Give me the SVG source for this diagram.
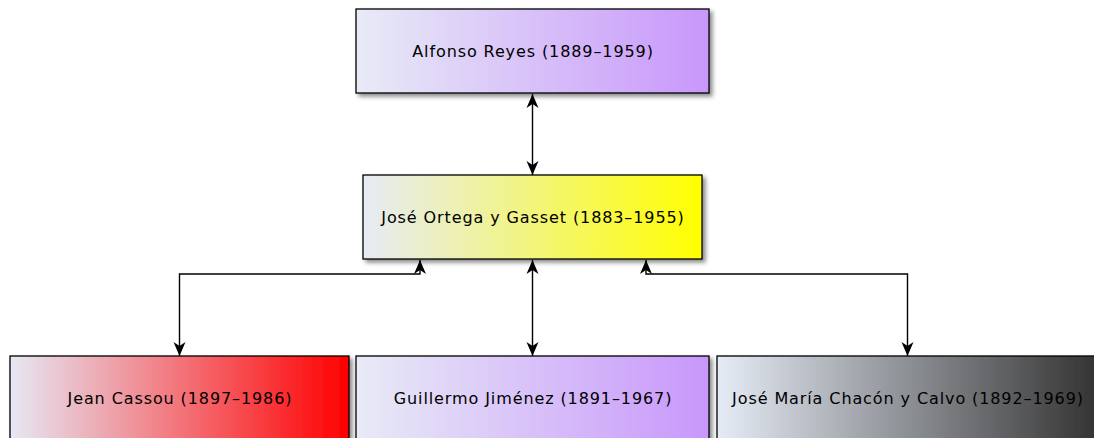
<svg xmlns="http://www.w3.org/2000/svg" width="1094" height="438" viewBox="0 0 1094 438">
<defs>
<style>
.box{stroke:#000;stroke-width:1.3;filter:url(#sh)}
.lbl{font-family:"DejaVu Sans","Liberation Sans",sans-serif;font-size:16px;letter-spacing:0.9px;fill:#000;text-anchor:middle}
.con{fill:none;stroke:#000;stroke-width:1.4;marker-start:url(#ah);marker-end:url(#ah)}
</style>
<filter id="sh" x="-5%" y="-10%" width="115%" height="130%">
<feDropShadow dx="3" dy="3" stdDeviation="2" flood-color="#000" flood-opacity="0.45"/>
</filter>
<marker id="ah" viewBox="-15 -7 16 14" markerWidth="16" markerHeight="14" refX="0" refY="0" orient="auto-start-reverse" markerUnits="userSpaceOnUse">
<path d="M0,0 L-14,-6 L-10,0 L-14,6 Z" fill="#000"/>
</marker>
<linearGradient id="gPurple" x1="0" y1="0" x2="1" y2="0">
<stop offset="0" stop-color="#e8ebf6"/>
<stop offset="1" stop-color="#c897fb"/>
</linearGradient>
<linearGradient id="gYellow" x1="0" y1="0" x2="1" y2="0">
<stop offset="0" stop-color="#e6ebf6"/>
<stop offset="1" stop-color="#ffff00"/>
</linearGradient>
<linearGradient id="gRed" x1="0" y1="0" x2="1" y2="0">
<stop offset="0" stop-color="#e6e8f4"/>
<stop offset="1" stop-color="#ff0000"/>
</linearGradient>
<linearGradient id="gGray" x1="0" y1="0" x2="1" y2="0">
<stop offset="0" stop-color="#e6ecf6"/>
<stop offset="1" stop-color="#333333"/>
</linearGradient>
</defs>
<rect width="1094" height="438" fill="#fff"/>
<g id="connectors">
<path class="con" d="M532.5,94 L532.5,175"/>
<path class="con" d="M532.5,260 L532.5,356"/>
<path class="con" d="M420,260 L420,274 L179.5,274 L179.5,356"/>
<path class="con" d="M646,260 L646,274 L907.5,274 L907.5,356"/>
</g>
<g id="alfonso-reyes">
<rect class="box" x="356" y="9" width="353" height="84" fill="url(#gPurple)"/>
<text class="lbl" x="533" y="57">Alfonso Reyes (1889–1959)</text>
</g>
<g id="ortega-y-gasset">
<rect class="box" x="363" y="175" width="339" height="84" fill="url(#gYellow)"/>
<text class="lbl" x="533" y="223">José Ortega y Gasset (1883–1955)</text>
</g>
<g id="jean-cassou">
<rect class="box" x="10" y="356" width="339" height="84" fill="url(#gRed)"/>
<text class="lbl" x="180" y="404">Jean Cassou (1897–1986)</text>
</g>
<g id="guillermo-jimenez">
<rect class="box" x="356" y="356" width="353" height="84" fill="url(#gPurple)"/>
<text class="lbl" x="533" y="404">Guillermo Jiménez (1891–1967)</text>
</g>
<g id="chacon-y-calvo">
<rect class="box" x="717" y="356" width="381" height="84" fill="url(#gGray)"/>
<text class="lbl" x="908" y="404">José María Chacón y Calvo (1892–1969)</text>
</g>
</svg>
